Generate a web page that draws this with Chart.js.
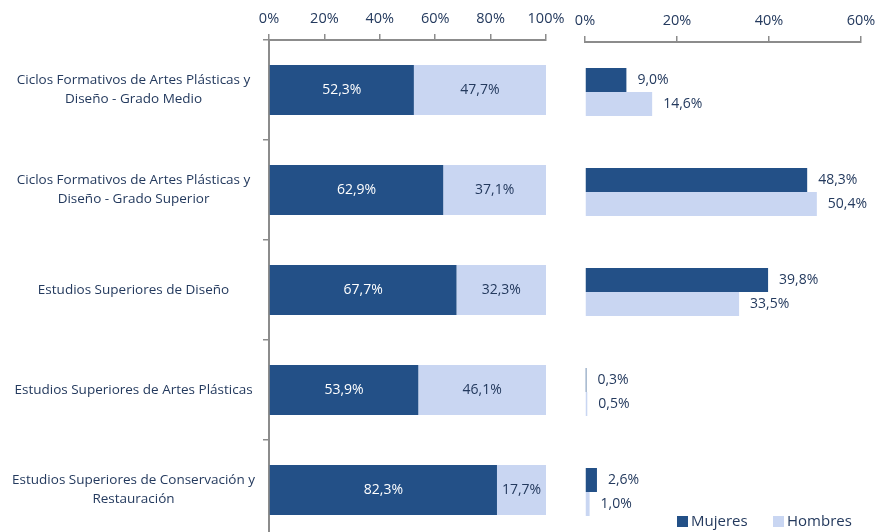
<!DOCTYPE html>
<html lang="es">
<head>
<meta charset="utf-8">
<title>Mujeres y Hombres por enseñanza</title>
<script src="https://cdn.jsdelivr.net/npm/chart.js@4.4.1/dist/chart.umd.min.js"></script>
<style>
  html, body { margin: 0; padding: 0; background: #fff; overflow: hidden; }
  #wrap { position: relative; width: 876px; height: 532px; overflow: hidden; }
  #shareChart { position: absolute; left: 0; top: 0; }
  #distChart { position: absolute; left: 570px; top: 0; }
  .legend { position: absolute; top: 510px; font: 15px 'Open Sans', sans-serif; color: #243a5e; white-space: nowrap; }
  .legend i { display: inline-block; width: 11px; height: 11px; margin-right: 3px; vertical-align: -1px; }
</style>
</head>
<body>
<div id="wrap">
  <canvas id="shareChart" width="570" height="540"></canvas>
  <canvas id="distChart" width="306" height="542"></canvas>
  <div class="legend" style="left:677px"><i style="background:#235087"></i>Mujeres</div>
  <div class="legend" style="left:773px"><i style="background:#c9d6f2"></i>Hombres</div>
</div>
<script>
// ── Data ────────────────────────────────────────────
const categories = [
  ['Ciclos Formativos de Artes Plásticas y', 'Diseño - Grado Medio'],
  ['Ciclos Formativos de Artes Plásticas y', 'Diseño - Grado Superior'],
  'Estudios Superiores de Diseño',
  'Estudios Superiores de Artes Plásticas',
  ['Estudios Superiores de Conservación y', 'Restauración'],
];
// % de mujeres / hombres dentro de cada enseñanza
const shareMujeres = [52.3, 62.9, 67.7, 53.9, 82.3];
const shareHombres = [47.7, 37.1, 32.3, 46.1, 17.7];
// distribución de cada sexo entre enseñanzas
const distMujeres = [9.0, 48.3, 39.8, 0.3, 2.6];
const distHombres = [14.6, 50.4, 33.5, 0.5, 1.0];

const COLORS = { mujeres: '#235087', hombres: '#c9d6f2', text: '#243a5e', axis: '#8c8c8c' };
const FONT = "'Open Sans', sans-serif";

const fmt = v => v.toFixed(1).replace('.', ',') + '%';

// ── Value labels ────────────────────────────────────
const valueLabels = {
  id: 'valueLabels',
  afterDatasetsDraw(chart, args, opts) {
    const { ctx } = chart;
    ctx.save();
    ctx.font = '14px ' + FONT;
    ctx.textBaseline = 'middle';
    chart.data.datasets.forEach((ds, i) => {
      chart.getDatasetMeta(i).data.forEach((bar, j) => {
        const v = ds.data[j];
        if (opts.inside) {
          ctx.textAlign = 'center';
          ctx.fillStyle = i === 0 ? '#ffffff' : COLORS.text;
          ctx.fillText(fmt(v), (bar.x + bar.base) / 2, bar.y);
        } else {
          ctx.textAlign = 'left';
          ctx.fillStyle = COLORS.text;
          ctx.fillText(fmt(v), bar.x + 11, bar.y);
        }
      });
    });
    ctx.restore();
  }
};

const xTicks = { color: COLORS.text, font: { family: FONT, size: 14.5 }, padding: 6, callback: v => v + '%' };

// drop the extra room Chart.js keeps for edge tick labels
const noEdgePad = s => { s.paddingLeft = 0; s.paddingRight = 0; s.paddingTop = 0; s.paddingBottom = 0; };

// ── Left: share within each category ────────────────
new Chart(document.getElementById('shareChart'), {
  type: 'bar',
  data: {
    labels: categories,
    datasets: [
      { label: 'Mujeres', data: shareMujeres, backgroundColor: COLORS.mujeres, barPercentage: 1, categoryPercentage: 0.5 },
      { label: 'Hombres', data: shareHombres, backgroundColor: COLORS.hombres, barPercentage: 1, categoryPercentage: 0.5 },
    ],
  },
  options: {
    indexAxis: 'y',
    responsive: false,
    animation: false,
    layout: { padding: { left: 0, right: 24, top: 0, bottom: 0 } },
    plugins: { legend: { display: false }, tooltip: { enabled: false }, valueLabels: { inside: true } },
    scales: {
      x: {
        position: 'top', stacked: true, min: 0, max: 100,
        ticks: { ...xTicks, stepSize: 20 },
        grid: { drawOnChartArea: false, tickLength: 6, color: COLORS.axis, lineWidth: 1.5 },
        border: { color: COLORS.axis, width: 2 },
        afterFit: s => { s.height = 40; noEdgePad(s); },
      },
      y: {
        stacked: true,
        ticks: { color: COLORS.text, font: { family: FONT, size: 13.5, lineHeight: 1.4 }, crossAlign: 'center', padding: 8 },
        grid: { drawOnChartArea: false, tickLength: 6, color: COLORS.axis, lineWidth: 1.5 },
        border: { color: COLORS.axis, width: 2 },
        afterFit: s => { s.width = 269; noEdgePad(s); },
      },
    },
  },
  plugins: [valueLabels],
});

// ── Right: distribution of each sex ─────────────────
new Chart(document.getElementById('distChart'), {
  type: 'bar',
  data: {
    labels: categories,
    datasets: [
      { label: 'Mujeres', data: distMujeres, backgroundColor: COLORS.mujeres, barPercentage: 1, categoryPercentage: 0.48 },
      { label: 'Hombres', data: distHombres, backgroundColor: COLORS.hombres, barPercentage: 1, categoryPercentage: 0.48 },
    ],
  },
  options: {
    indexAxis: 'y',
    responsive: false,
    animation: false,
    layout: { padding: { left: 15, right: 15, top: 0, bottom: 0 } },
    plugins: { legend: { display: false }, tooltip: { enabled: false }, valueLabels: { inside: false } },
    scales: {
      x: {
        position: 'top', min: 0, max: 60,
        ticks: { ...xTicks, stepSize: 20 },
        grid: { drawOnChartArea: false, tickLength: 6, color: COLORS.axis, lineWidth: 1.5 },
        border: { color: COLORS.axis, width: 2 },
        afterFit: s => { s.height = 42; noEdgePad(s); },
      },
      y: { display: false },
    },
  },
  plugins: [valueLabels],
});
</script>
</body>
</html>
